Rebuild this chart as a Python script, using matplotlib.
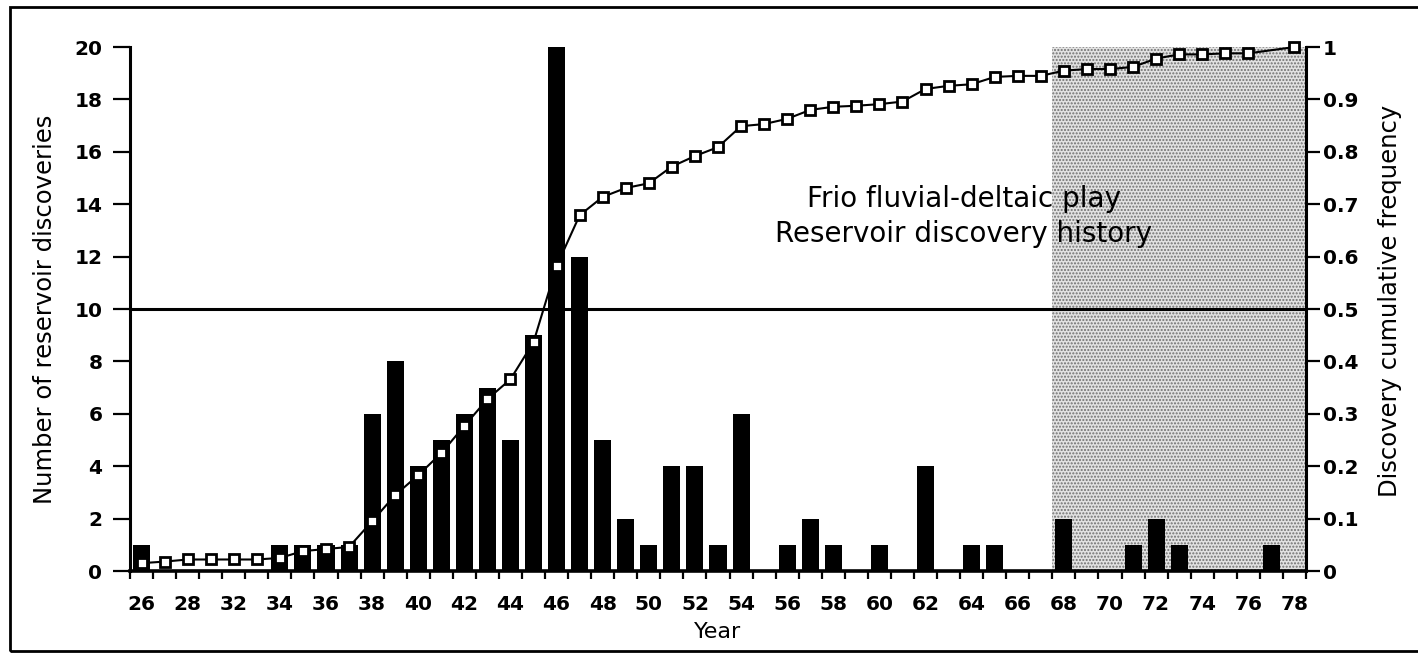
import matplotlib.pyplot as plt
from matplotlib.patches import Rectangle

# year slots along the x axis (quiet years before 1932 were merged)
years = [26, 27, 28, 30, 32, 33, 34, 35, 36, 37, 38, 39, 40, 41, 42, 43, 44,
         45, 46, 47, 48, 49, 50, 51, 52, 53, 54, 55, 56, 57, 58, 59, 60, 61,
         62, 63, 64, 65, 66, 67, 68, 69, 70, 71, 72, 73, 74, 75, 76, 77, 78]
discoveries = [1, 0, 0, 0, 0, 0, 1, 1, 1, 1, 6, 8, 4, 5, 6, 7, 5,
               9, 20, 12, 5, 2, 1, 4, 4, 1, 6, 0, 1, 2, 1, 0, 1, 0,
               4, 0, 1, 1, 0, 0, 2, 0, 0, 1, 2, 1, 0, 0, 0, 1, 0]

cum_years = [26, 27, 28, 30, 32, 33, 34, 35, 36, 37, 38, 39, 40, 41, 42, 43,
             44, 45, 46, 47, 48, 49, 50, 51, 52, 53, 54, 55, 56, 57, 58, 59,
             60, 61, 62, 63, 64, 65, 66, 67, 68, 69, 70, 71, 72, 73, 74, 75,
             76, 78]
cum_freq = [0.015, 0.018, 0.022, 0.022, 0.022, 0.022, 0.025, 0.038, 0.042,
            0.046, 0.095, 0.145, 0.183, 0.225, 0.277, 0.328, 0.366, 0.437,
            0.582, 0.679, 0.714, 0.731, 0.740, 0.772, 0.792, 0.809, 0.849,
            0.853, 0.863, 0.880, 0.886, 0.888, 0.891, 0.896, 0.920, 0.926,
            0.929, 0.943, 0.945, 0.945, 0.955, 0.958, 0.958, 0.962, 0.978,
            0.986, 0.986, 0.988, 0.988, 1.0]

label_years = [26, 28, 32, 34, 36, 38, 40, 42, 44, 46, 48, 50, 52, 54, 56,
               58, 60, 62, 64, 66, 68, 70, 72, 74, 76, 78]
count_ticks = [0, 2, 4, 6, 8, 10, 12, 14, 16, 18, 20]
freq_ticks = [0, 0.1, 0.2, 0.3, 0.4, 0.5, 0.6, 0.7, 0.8, 0.9, 1]
freq_labels = ["0", "0.1", "0.2", "0.3", "0.4", "0.5", "0.6", "0.7", "0.8", "0.9", "1"]
shade_from = 68
half_line = 10

plt.rcParams["font.family"] = ["DejaVu Sans"]
plt.rcParams["hatch.linewidth"] = 1.0

fig = plt.figure(figsize=(14.18, 6.59), dpi=100)
ax = fig.add_axes([0.0917, 0.1335, 0.8293, 0.7951])

slot = {y: i for i, y in enumerate(years)}
n = len(years)

# stippled band for the late years
ax.axvspan(slot[shade_from] - 0.5, n - 0.5, facecolor="#e2e2e2",
           edgecolor="#707070", hatch=".....", linewidth=0, zorder=0)
ax.axhline(half_line, color="black", lw=2.2, zorder=1)
ax.bar(range(n), discoveries, width=0.74, color="black", zorder=2)

ax.set_xlim(-0.5, n - 0.5)
ax.set_ylim(0, 20)
ax.set_xticks([slot[y] for y in label_years], [str(y) for y in label_years],
              fontsize=14.5, fontweight="bold")
ax.set_xticks([i - 0.5 for i in range(n + 1)], minor=True)
ax.tick_params(axis="x", which="major", length=0, pad=17)
ax.tick_params(axis="x", which="minor", length=6, width=1.6, direction="out")
ax.set_yticks(count_ticks, [str(v) for v in count_ticks], fontsize=14.5,
              fontweight="bold")
ax.tick_params(axis="y", length=12, width=1.6, pad=8)

for side in ("top", "right"):
    ax.spines[side].set_visible(False)
ax.spines["left"].set_linewidth(2.2)
ax.spines["bottom"].set_linewidth(2.6)

ax.set_ylabel("Number of reservoir discoveries", fontsize=17.5)
ax.yaxis.set_label_coords(-0.062, 0.5)
ax.set_xlabel("Year", fontsize=16)
ax.xaxis.set_label_coords(0.5, -0.098)

ax.text(0.709, 0.676, "Frio fluvial-deltaic play\nReservoir discovery history",
        transform=ax.transAxes, ha="center", va="center", fontsize=20,
        linespacing=1.33, zorder=4)

ax2 = ax.twinx()
ax2.plot([slot[y] for y in cum_years], cum_freq, color="black", lw=1.5,
         marker="s", ms=7.5, mfc="white", mec="black", mew=2, clip_on=False)
ax2.set_ylim(0, 1)
ax2.set_yticks(freq_ticks, freq_labels, fontsize=14.5, fontweight="bold")
ax2.tick_params(axis="y", length=10, width=1.6, pad=2)
for side in ("top", "left", "bottom"):
    ax2.spines[side].set_visible(False)
ax2.spines["right"].set_linewidth(2.2)
ax2.set_ylabel("Discovery cumulative frequency", fontsize=17.5)
ax2.yaxis.set_label_coords(1.061, 0.515)

# frame around the whole figure
fig.add_artist(Rectangle((0.007, 0.012), 1.0, 0.978, transform=fig.transFigure,
                         fill=False, lw=2, ec="black"))

fig.savefig("out.png", dpi=100)
